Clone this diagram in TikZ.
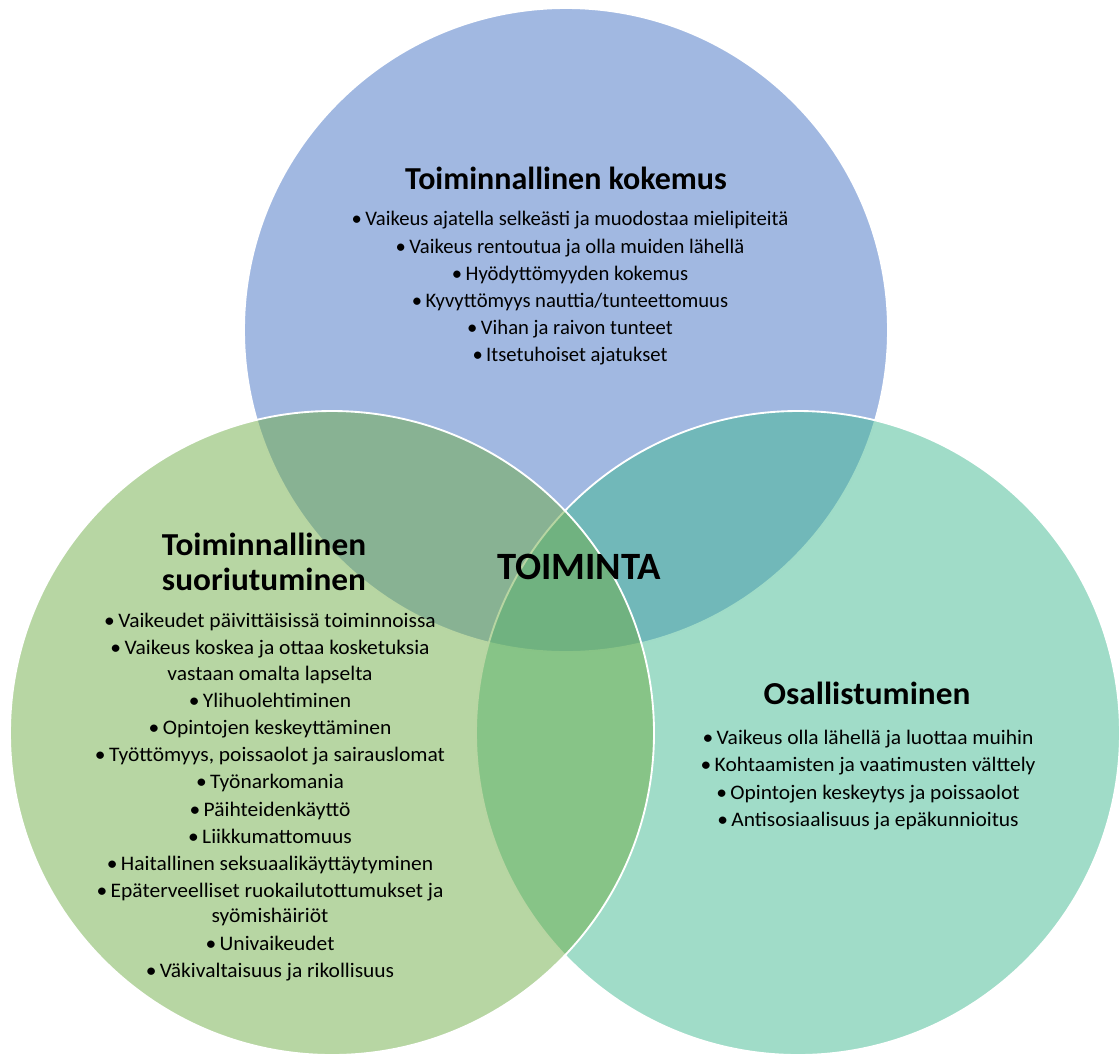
\documentclass[tikz,border=0pt]{standalone}
\usepackage{fontspec}
\setmainfont{Carlito}
\newfontfamily\widefont{Carlito}[FakeStretch=1.04]
\usepackage{tikz}
\usetikzlibrary{positioning}

\definecolor{vennblue}{RGB}{68,114,196}
\definecolor{venngreen}{RGB}{112,173,71}
\definecolor{vennteal}{RGB}{65,185,145}

\newcommand{\mytikzheadfontsize}{\fontsize{24}{26}\selectfont\bfseries}
\newcommand{\mytikzitemfontsize}{\fontsize{15.5}{20.4}\selectfont}
\newcommand{\itm}{\textbullet\,}

\tikzstyle{venncircle}=[
    draw=white,
    line width=1.4pt,
    fill opacity=0.5,
    draw opacity=1
]
\tikzstyle{headnode}=[
    align=center,
    inner sep=0pt,
    font=\mytikzheadfontsize
]
\tikzstyle{listnode}=[
    align=center,
    inner sep=0pt,
    font=\mytikzitemfontsize
]
\tikzstyle{wideheadnode}=[
    headnode,
    font=\widefont\mytikzheadfontsize
]
\tikzstyle{widelistnode}=[
    listnode,
    font=\widefont\mytikzitemfontsize
]

\begin{document}
\begin{tikzpicture}[x=0.75pt,y=-0.75pt]
    \useasboundingbox (0,0) rectangle (1120,1054);

    % circles (teal under green)
    \draw[venncircle,fill=vennblue]  (566,330) circle (322);
    \draw[venncircle,fill=vennteal]  (798,733) circle (322);
    \draw[venncircle,fill=venngreen] (332,733) circle (322);

    % top circle
    \node[headnode] (kokemus) at (566,178) {Toiminnallinen kokemus};
    \node[listnode] (kokemuslist) at (570,288.5) {%
        \itm Vaikeus ajatella selkeästi ja muodostaa mielipiteitä\\
        \itm Vaikeus rentoutua ja olla muiden lähellä\\
        \itm Hyödyttömyyden kokemus\\
        \itm Kyvyttömyys nauttia/tunteettomuus\\
        \itm Vihan ja raivon tunteet\\
        \itm Itsetuhoiset ajatukset};

    % left circle
    \node[wideheadnode] (suoriutuminen) at (264,562) {Toiminnallinen\\suoriutuminen};
    \node[widelistnode] (suoriutuminenlist) at (270,797) {%
        \itm Vaikeudet päivittäisissä toiminnoissa\\
        \itm Vaikeus koskea ja ottaa kosketuksia\\[-1.5pt]
        vastaan omalta lapselta\\
        \itm Ylihuolehtiminen\\
        \itm Opintojen keskeyttäminen\\
        \itm Työttömyys, poissaolot ja sairauslomat\\
        \itm Työnarkomania\\
        \itm Päihteidenkäyttö\\
        \itm Liikkumattomuus\\
        \itm Haitallinen seksuaalikäyttäytyminen\\
        \itm Epäterveelliset ruokailutottumukset ja\\[-1.5pt]
        syömishäiriöt\\
        \itm Univaikeudet\\
        \itm Väkivaltaisuus ja rikollisuus};

    % right circle
    \node[wideheadnode] (osallistuminen) at (867,693) {Osallistuminen};
    \node[widelistnode] (osallistuminenlist) at (868,780) {%
        \itm Vaikeus olla lähellä ja luottaa muihin\\
        \itm Kohtaamisten ja vaatimusten välttely\\
        \itm Opintojen keskeytys ja poissaolot\\
        \itm Antisosiaalisuus ja epäkunnioitus};

    % centre
    \node[headnode,font=\fontsize{29}{31}\selectfont\bfseries] (toiminta) at (579,567) {TOIMINTA};
\end{tikzpicture}
\end{document}
